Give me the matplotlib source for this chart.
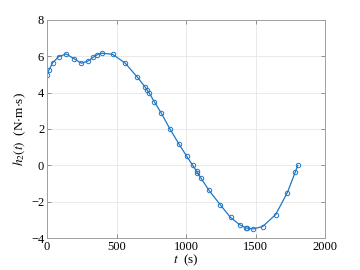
import matplotlib.pyplot as plt

t = [0, 14, 41, 84, 137, 194, 247, 295, 333, 357, 393, 472, 563, 647, 707, 719, 736,
     772, 823, 883, 947, 1005, 1048, 1077, 1081, 1108, 1164, 1245, 1321, 1388, 1432,
     1441, 1484, 1551, 1645, 1729, 1787, 1804]
h2 = [4.97, 5.25, 5.65, 5.98, 6.13, 5.87, 5.62, 5.74, 5.95, 6.07, 6.17, 6.11, 5.62,
      4.88, 4.30, 4.15, 3.97, 3.50, 2.86, 2.02, 1.20, 0.50, 0.0, -0.33, -0.40, -0.71,
      -1.36, -2.16, -2.87, -3.28, -3.45, -3.46, -3.50, -3.37, -2.71, -1.50, -0.35, 0.0]

plt.rcParams['font.family'] = 'Liberation Serif'
plt.rcParams['mathtext.fontset'] = 'stix'

fig = plt.figure(figsize=(3.6, 2.7), dpi=100)
ax = fig.add_axes([0.1306, 0.1185, 0.7722, 0.8075])

ax.plot(t, h2, color='#1f77c4', lw=0.9, marker='o', ms=3.2, mfc='none', mew=0.7)

ax.set_xlim(0, 2000)
ax.set_ylim(-4, 8)
ax.set_xticks(range(0, 2001, 500))
ax.set_yticks(range(-4, 9, 2))
ax.grid(True, color='#e6e6e6', lw=0.6)
ax.set_axisbelow(True)
for s in ax.spines.values():
    s.set_color('#a0a0a0')
    s.set_linewidth(0.7)
ax.tick_params(direction='in', length=3, width=0.6, color='#808080',
               labelsize=9, top=True, right=True, pad=2)
ax.set_xlabel(r'$t$  (s)', fontsize=9.5, labelpad=0)
ax.set_ylabel(r'$h_2(t)$  (N$\cdot$m$\cdot$s)', fontsize=9.5, labelpad=2)

fig.savefig('out.png')
